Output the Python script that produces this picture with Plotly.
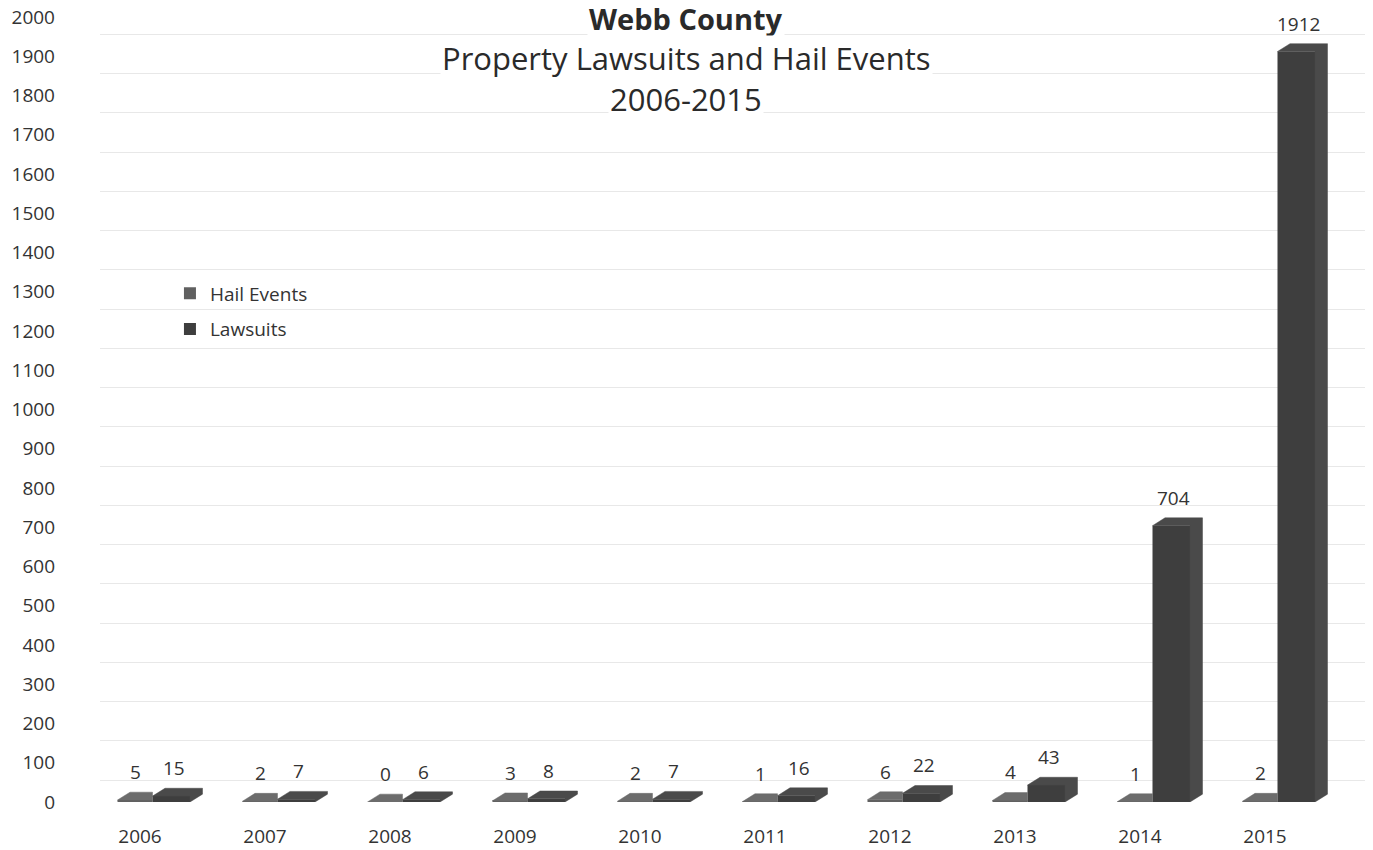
import plotly.graph_objects as go

# Webb County: property lawsuits vs. hail events, 2006-2015
years = [2006, 2007, 2008, 2009, 2010, 2011, 2012, 2013, 2014, 2015]
hail_events = [5, 2, 0, 3, 2, 1, 6, 4, 1, 2]
lawsuits = [15, 7, 6, 8, 7, 16, 22, 43, 704, 1912]
y_ticks = list(range(0, 2001, 100))

# bar geometry (category units / value units)
HAIL_OFF, HAIL_W = -0.18, 0.28
LAW_OFF, LAW_W = 0.10, 0.30
DX, DY = 0.10, 20          # depth of the pseudo-3D faces
GRID_SHIFT = 56            # back-wall gridlines sit behind the bars

HAIL_COLOR = "#606060"
HAIL_DEPTH = "#6c6c6c"
LAW_COLOR = "#3e3e3e"
LAW_DEPTH = "#4a4a4a"
FONT = "Open Sans"
TEXT = "#333333"

idx = list(range(len(years)))

fig = go.Figure()

# front faces
fig.add_trace(go.Bar(
    x=idx, y=hail_events, name="Hail Events",
    offset=HAIL_OFF, width=HAIL_W,
    marker=dict(color=HAIL_COLOR, line=dict(width=0)),
    legendgroup="hail", hoverinfo="skip",
))
fig.add_trace(go.Bar(
    x=idx, y=lawsuits, name="Lawsuits",
    offset=LAW_OFF, width=LAW_W,
    marker=dict(color=LAW_COLOR, line=dict(width=0)),
    legendgroup="law", hoverinfo="skip",
))

# top faces of the hail bars (side face is hidden by the lawsuit bar)
hx, hy = [], []
for i, v in zip(idx, hail_events):
    x0, x1 = i + HAIL_OFF, i + HAIL_OFF + HAIL_W
    hx += [x0, x0 + DX, x1, x1, x0, None]
    hy += [v, v + DY, v + DY, v, v, None]
fig.add_trace(go.Scatter(
    x=hx, y=hy, mode="lines", fill="toself", fillcolor=HAIL_DEPTH,
    line=dict(width=0.5, color=HAIL_DEPTH), showlegend=False, hoverinfo="skip",
))

# top and right-side faces of the lawsuit bars
lx, ly = [], []
for i, v in zip(idx, lawsuits):
    x0, x1 = i + LAW_OFF, i + LAW_OFF + LAW_W
    lx += [x0, x0 + DX, x1 + DX, x1 + DX, x1, x1, x0, None]
    ly += [v, v + DY, v + DY, DY, 0, v, v, None]
fig.add_trace(go.Scatter(
    x=lx, y=ly, mode="lines", fill="toself", fillcolor=LAW_DEPTH,
    line=dict(width=0.5, color=LAW_DEPTH), showlegend=False, hoverinfo="skip",
))

# invisible trace that anchors the back-wall gridline axis
fig.add_trace(go.Scatter(
    x=idx, y=lawsuits, yaxis="y2", mode="none",
    showlegend=False, hoverinfo="skip",
))

# value labels
annotations = []
for i, v in zip(idx, hail_events):
    annotations.append(dict(x=i - 0.04, y=v, xref="x", yref="y", text=str(v),
                            showarrow=False, yshift=28,
                            font=dict(family=FONT, size=19, color=TEXT)))
for i, v in zip(idx, lawsuits):
    annotations.append(dict(x=i + 0.27, y=v, xref="x", yref="y", text=str(v),
                            showarrow=False, yshift=28,
                            font=dict(family=FONT, size=19, color=TEXT)))

# three-line title
title_lines = [
    ("<b>Webb County</b>", 0.9975, 29),
    ("Property Lawsuits and Hail Events", 0.9475, 31),
    ("2006-2015", 0.8953, 31),
]
for txt, yp, sz in title_lines:
    annotations.append(dict(x=0.4633, y=yp, xref="paper", yref="paper",
                            text=txt, showarrow=False, yanchor="middle",
                            xanchor="center", bgcolor="white",
                            font=dict(family=FONT, size=sz, color="#2a2a2a")))

fig.update_layout(
    width=1373, height=850,
    margin=dict(l=100, r=8, t=17, b=48, autoexpand=False),
    paper_bgcolor="white", plot_bgcolor="white",
    barmode="overlay",
    showlegend=True,
    legend=dict(x=0.0553, y=0.672, xanchor="left", yanchor="top",
                font=dict(family=FONT, size=19, color=TEXT),
                bgcolor="rgba(0,0,0,0)", tracegroupgap=8,
                itemclick=False),
    annotations=annotations,
    font=dict(family=FONT, color=TEXT),
    xaxis=dict(
        range=[-0.32, 9.8], automargin=False,
        tickmode="array", tickvals=idx, ticktext=[str(y) for y in years],
        showgrid=False, zeroline=False, showline=False, ticks="",
        tickfont=dict(family=FONT, size=19, color=TEXT),
        ticklabelstandoff=21,
    ),
    yaxis=dict(
        range=[0, 2000], automargin=False,
        tickmode="array", tickvals=y_ticks,
        showgrid=False, zeroline=False, showline=False, ticks="",
        tickfont=dict(family=FONT, size=19, color=TEXT),
        ticklabelstandoff=44,
    ),
    yaxis2=dict(
        range=[-GRID_SHIFT, 2000 - GRID_SHIFT], automargin=False,
        overlaying="y", side="left",
        tickmode="array", tickvals=y_ticks,
        showticklabels=False, showgrid=True, gridcolor="#e8e8e8", gridwidth=1,
        zeroline=False, showline=False, ticks="",
    ),
)

fig.write_html("out.html")
